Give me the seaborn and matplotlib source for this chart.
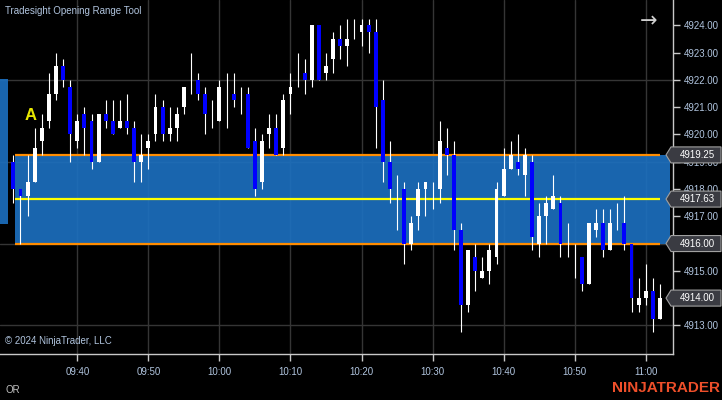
import numpy as np
import matplotlib
matplotlib.use("Agg")
import matplotlib.pyplot as plt
import matplotlib.transforms as mtransforms
from matplotlib.patches import Polygon, Rectangle
import seaborn as sns

# 1-minute bars, minute index counted from 09:30
minutes = list(range(1, 93))
opens = [4919.0, 4918.0, 4917.75, 4918.25, 4919.75, 4920.5, 4921.5, 4922.5, 4921.75, 4919.75,
         4920.75, 4920.5, 4919.0, 4920.75, 4920.5, 4920.25, 4920.5, 4920.25, 4919.0, 4919.5,
         4920.0, 4921.0, 4920.0, 4920.25, 4921.0, 4922.25, 4922.0, 4921.5, 4920.75, 4920.5,
         4921.25, 4921.5, 4921.25, 4921.5, 4919.75, 4918.25, 4920.0, 4920.25, 4919.5, 4921.5,
         4922.25, 4922.25, 4922.0, 4924.0, 4922.25, 4922.75, 4923.5, 4923.25, 4923.75, 4923.75,
         4924.0, 4923.75, 4921.25, 4919.0, 4917.5, 4918.0, 4916.0, 4917.0, 4918.0, 4917.75,
         4918.0, 4919.5, 4919.25, 4916.5, 4913.75, 4915.5, 4914.75, 4915.0, 4915.5, 4917.75,
         4918.75, 4919.0, 4918.5, 4919.0, 4916.0, 4917.0, 4917.25, 4917.5, 4916.0, 4915.5,
         4915.5, 4914.5, 4916.5, 4916.75, 4915.75, 4917.0, 4916.75, 4916.0, 4913.75, 4914.0,
         4914.25, 4913.25]
highs = [4919.25, 4918.0, 4919.25, 4920.25, 4920.75, 4922.25, 4923.0, 4922.75, 4922.0, 4920.75,
         4921.0, 4920.75, 4920.75, 4921.25, 4921.25, 4921.25, 4921.5, 4920.5, 4920.0, 4920.0,
         4921.5, 4921.25, 4921.0, 4921.0, 4921.75, 4923.0, 4922.25, 4921.75, 4921.25, 4922.0,
         4922.25, 4922.25, 4921.75, 4921.75, 4920.25, 4920.0, 4920.75, 4920.75, 4921.5, 4922.25,
         4923.0, 4922.75, 4924.0, 4924.0, 4923.0, 4923.75, 4924.0, 4924.25, 4924.25, 4924.25,
         4924.25, 4924.25, 4922.0, 4919.75, 4918.5, 4918.25, 4917.0, 4918.25, 4918.25, 4918.25,
         4920.5, 4920.25, 4919.75, 4916.75, 4915.75, 4916.0, 4915.5, 4916.0, 4918.25, 4919.5,
         4919.75, 4920.0, 4919.5, 4919.25, 4917.5, 4917.75, 4918.5, 4917.75, 4916.75, 4916.0,
         4915.5, 4916.75, 4917.25, 4917.25, 4917.25, 4917.5, 4917.75, 4916.0, 4914.75, 4915.25,
         4914.75, 4914.5]
lows = [4917.5, 4916.0, 4917.0, 4918.25, 4919.25, 4920.25, 4921.25, 4921.75, 4919.0, 4919.5,
        4919.25, 4918.75, 4919.0, 4920.25, 4920.0, 4920.25, 4920.0, 4918.25, 4918.25, 4918.75,
        4919.75, 4919.75, 4919.75, 4919.75, 4920.75, 4921.5, 4921.25, 4920.0, 4920.25, 4920.5,
        4920.25, 4921.0, 4920.75, 4919.5, 4917.75, 4918.0, 4919.5, 4919.25, 4919.25, 4920.75,
        4921.75, 4921.5, 4921.75, 4922.0, 4922.0, 4922.25, 4922.75, 4922.5, 4923.5, 4923.25,
        4923.0, 4919.5, 4918.25, 4917.5, 4916.5, 4915.25, 4915.75, 4916.5, 4917.0, 4917.25,
        4917.5, 4918.5, 4915.75, 4912.75, 4913.5, 4914.25, 4914.75, 4914.5, 4915.25, 4917.75,
        4918.75, 4918.5, 4917.75, 4915.75, 4915.5, 4916.0, 4917.25, 4915.5, 4915.5, 4914.75,
        4914.25, 4914.5, 4916.25, 4915.5, 4915.75, 4916.5, 4915.75, 4913.5, 4913.5, 4913.75,
        4912.75, 4913.25]
closes = [4918.0, 4917.75, 4918.25, 4919.5, 4920.25, 4921.5, 4922.5, 4922.0, 4920.0, 4920.5,
          4920.25, 4919.0, 4920.75, 4920.5, 4920.0, 4920.5, 4920.25, 4919.0, 4919.25, 4919.75,
          4921.0, 4920.0, 4920.25, 4920.75, 4921.75, 4922.25, 4921.5, 4920.75, 4920.75, 4921.75,
          4921.25, 4921.25, 4921.25, 4919.5, 4918.0, 4919.75, 4920.25, 4919.25, 4921.25, 4921.75,
          4922.25, 4922.0, 4924.0, 4922.0, 4922.5, 4923.5, 4923.25, 4923.5, 4923.75, 4924.0,
          4923.75, 4921.0, 4919.0, 4918.0, 4917.5, 4916.0, 4916.75, 4918.0, 4918.25, 4917.75,
          4919.75, 4919.25, 4916.5, 4913.75, 4915.75, 4915.0, 4915.0, 4915.75, 4918.0, 4918.75,
          4919.25, 4918.75, 4919.25, 4916.25, 4917.0, 4917.5, 4917.75, 4916.0, 4916.0, 4915.5,
          4914.5, 4916.75, 4916.75, 4915.75, 4916.75, 4917.0, 4916.0, 4914.0, 4914.0, 4914.25,
          4913.25, 4914.0]

tick_minutes = [10, 20, 30, 40, 50, 60, 70, 80, 90]
tick_labels = ["09:40", "09:50", "10:00", "10:10", "10:20", "10:30", "10:40", "10:50", "11:00"]
price_ticks = [4913.0, 4914.0, 4915.0, 4916.0, 4917.0, 4918.0, 4919.0, 4920.0,
               4921.0, 4922.0, 4923.0, 4924.0]
grid_prices = [4913.0, 4916.0, 4919.0, 4922.0]

or_high = 4919.25
or_low = 4916.00
or_mid = 4917.63
marker_prices = [or_high, or_mid, or_low, closes[-1]]

W, H = 722, 400
BOX_BLUE = "#1c6fbe"
LABEL = "#b0c4de"
AXIS = "#c8c8c8"

sns.set_theme(style="ticks", rc={"axes.facecolor": "black", "figure.facecolor": "black",
                                 "savefig.facecolor": "black"})
plt.rcParams["font.family"] = ["Liberation Sans", "DejaVu Sans"]

fig = plt.figure(figsize=(W / 100, H / 100), dpi=100)
ax = fig.add_axes([0, 46 / H, 673 / W, 354 / H])
ax.set_facecolor("black")

# grid
for p in grid_prices:
    ax.axhline(p, color="#353535", lw=1, zorder=0)
for m in tick_minutes:
    ax.axvline(m, color="#353535", lw=1, zorder=0)

# opening range box
ax.fill_between([1.2, 93.4], or_low, or_high, color=BOX_BLUE, alpha=0.92, lw=0, zorder=1)
ax.hlines([or_high, or_low], 1.2, 92, color="#ff8c00", lw=1.6, zorder=2)
ax.hlines(or_mid, 1.2, 92, color="#ffff00", lw=1.6, zorder=2)

# candles
o = np.array(opens)
c = np.array(closes)
body_colors = ["white" if cc >= oo else "#0000ff" for oo, cc in zip(o, c)]
ax.vlines(minutes, lows, highs, color="white", lw=0.8, zorder=3)
ax.bar(minutes, np.abs(c - o), bottom=np.minimum(o, c), width=0.55,
       color=body_colors, lw=0, zorder=4)

ax.set_xlim(-0.88, 93.84)
ax.set_ylim(4911.95, 4924.93)

ax.set_xticks(tick_minutes)
ax.set_xticklabels(tick_labels)
ax.set_yticks(price_ticks)
# labels sitting right under a price marker are hidden by it
ax.set_yticklabels(["" if p in marker_prices else f"{p:.2f}" for p in price_ticks])
ax.yaxis.tick_right()
ax.tick_params(axis="x", direction="out", length=5, width=1, color=AXIS,
               labelcolor=LABEL, labelsize=7, pad=4.5)
ax.tick_params(axis="y", direction="out", length=5, width=1, color=AXIS,
               labelcolor=LABEL, labelsize=7, pad=2.5)
for side in ["top", "left"]:
    ax.spines[side].set_visible(False)
for side in ["bottom", "right"]:
    ax.spines[side].set_color(AXIS)
    ax.spines[side].set_linewidth(1)
ax.grid(False)

# price markers on the right axis
tr = mtransforms.blended_transform_factory(fig.transFigure, ax.transData)
half = 8 / 27.27
for p in marker_prices:
    pts = [(666 / W, p), (671 / W, p + half), (721 / W, p + half),
           (721 / W, p - half), (671 / W, p - half)]
    fig.add_artist(Polygon(pts, closed=True, transform=tr, fc="#3a3b42", ec="#a0a0a0",
                           lw=0.8, zorder=10))
    fig.text(697 / W, p, f"{p:.2f}", transform=tr, color="white", fontsize=7,
             ha="center", va="center", zorder=11)

# left edge blue strip
fig.add_artist(Rectangle((0, 1 - 224 / H), 8 / W, 145 / H, transform=fig.transFigure,
                         fc=BOX_BLUE, alpha=0.92, lw=0, zorder=5))

# texts
fig.text(5 / W, 1 - 11 / H, "Tradesight Opening Range Tool", color=LABEL, fontsize=7, va="center")
fig.text(31 / W, 1 - 116 / H, "A", color="#e8e800", fontsize=12, fontweight="bold",
         ha="center", va="center")
fig.text(649 / W, 1 - 21 / H, "\u2192", color="#d0d0d0", fontsize=15, ha="center",
         va="center", family="DejaVu Sans")
fig.text(5 / W, 1 - 341 / H, "\u00a9 2024 NinjaTrader, LLC", color=LABEL, fontsize=7, va="center")
fig.text(5 / W, 1 - 390 / H, "OR", color="#c0c0c0", fontsize=7, va="center")
fig.text(720 / W, 1 - 388 / H, "NINJATRADER", color="#ee4f2a", fontsize=11,
         fontweight="bold", ha="right", va="center")

fig.savefig("out.png", dpi=100, facecolor="black")
